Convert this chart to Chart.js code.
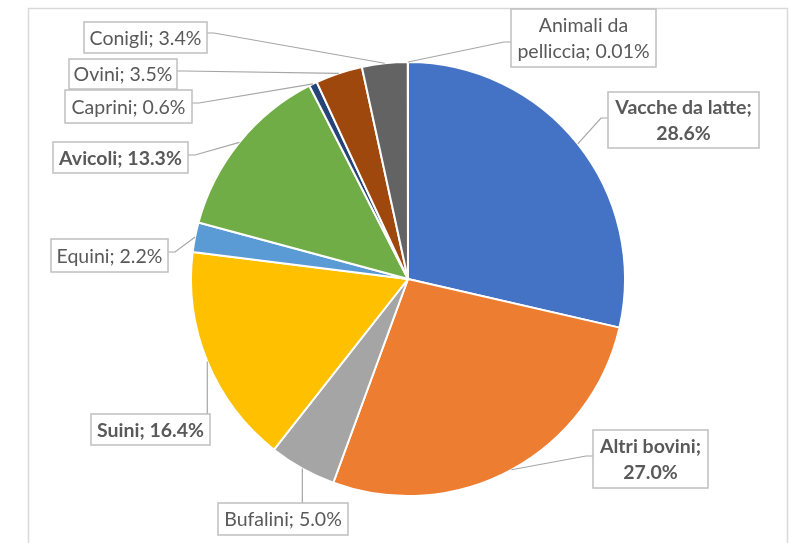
<!DOCTYPE html>
<html><head><meta charset="utf-8">
<script src="https://cdn.jsdelivr.net/npm/chart.js@4.4.1/dist/chart.umd.min.js"></script>
<style>html,body{margin:0;padding:0;background:#fff;overflow:hidden}canvas{display:block}</style>
</head><body>
<canvas id="c" width="790" height="543"></canvas>
<script>
// ---- data ----
const categories = ["Vacche da latte","Altri bovini","Bufalini","Suini","Equini","Avicoli","Caprini","Ovini","Conigli","Animali da pelliccia"];
const shares = [28.6, 27.0, 5.0, 16.4, 2.2, 13.3, 0.6, 3.5, 3.4, 0.01];
const boldLabels = [true, true, false, true, false, true, false, false, false, false];
const sliceColors = ["#4472C4","#ED7D31","#A5A5A5","#FFC000","#5B9BD5","#70AD47","#264478","#9E480E","#636363","#997300"];
// ---- label layout: [left, top, width, height, leader side, leader attach y] ----
const labelBoxes = [
  [608, 92, 151, 56, 'left', 118],
  [593, 430, 115, 58, 'left', 456],
  [218, 503, 130, 32, 'top', 0],
  [91, 414, 119, 31, 'top', 0],
  [51, 239, 117, 33, 'right', 252],
  [53, 142, 135, 31, 'right', 155],
  [65, 90, 127, 33, 'right', 103],
  [69, 59, 108, 30, 'right', 71],
  [84, 22, 123, 31, 'right', 33],
  [511, 9, 145, 58, 'left', 42]
];
const FONT_SIZE = 19.5;
const LINE_H = 26;

function fmt(v){ return (v < 0.1 ? v.toFixed(2) : v.toFixed(1)) + '%'; }

function wrap(ctx, text, maxW){
  const words = text.split(' ');
  const lines = [];
  let cur = '';
  words.forEach(w=>{
    const t = cur ? cur + ' ' + w : w;
    if (cur && ctx.measureText(t).width > maxW){ lines.push(cur); cur = w; }
    else cur = t;
  });
  if (cur) lines.push(cur);
  return lines;
}

const framePlugin = {
  id: 'frame',
  beforeDraw(chart){
    const ctx = chart.ctx;
    ctx.save();
    ctx.fillStyle = '#fff';
    ctx.fillRect(0,0,chart.width,chart.height);
    ctx.strokeStyle = '#D9D9D9';
    ctx.lineWidth = 1.5;
    ctx.strokeRect(28.5, 8.5, 759, 600);
    ctx.restore();
  }
};

const calloutPlugin = {
  id: 'callouts',
  afterDatasetsDraw(chart){
    const ctx = chart.ctx;
    const meta = chart.getDatasetMeta(0);
    meta.data.forEach((arc, i)=>{
      const p = arc.getProps(['x','y','startAngle','endAngle','outerRadius'], true);
      const mid = (p.startAngle + p.endAngle) / 2;
      const px = p.x + Math.cos(mid) * p.outerRadius;
      const py = p.y + Math.sin(mid) * p.outerRadius;
      const [bx, by, bw, bh, side, ay] = labelBoxes[i];
      ctx.save();
      ctx.strokeStyle = '#A6A6A6';
      ctx.lineWidth = 1.2;
      ctx.beginPath();
      if (side === 'top'){ ctx.moveTo(px, by); ctx.lineTo(px, py); }
      else if (side === 'left'){ ctx.moveTo(bx, ay); ctx.lineTo(bx - 7, ay); ctx.lineTo(px, py); }
      else { ctx.moveTo(bx + bw, ay); ctx.lineTo(bx + bw + 7, ay); ctx.lineTo(px, py); }
      ctx.stroke();
      ctx.fillStyle = '#fff';
      ctx.fillRect(bx, by, bw, bh);
      ctx.strokeStyle = '#BFBFBF';
      ctx.lineWidth = 1.5;
      ctx.strokeRect(bx, by, bw, bh);
      ctx.font = (boldLabels[i] ? 'bold ' : '') + FONT_SIZE + 'px Lato';
      ctx.fillStyle = '#595959';
      ctx.textAlign = 'center';
      ctx.textBaseline = 'middle';
      const lines = wrap(ctx, categories[i] + '; ' + fmt(shares[i]), bw - 2);
      const cy = by + bh / 2;
      lines.forEach((ln, k)=>{
        ctx.fillText(ln, bx + bw / 2, cy + (k - (lines.length - 1) / 2) * LINE_H + 1);
      });
      ctx.restore();
    });
  }
};

new Chart(document.getElementById('c'), {
  type: 'pie',
  data: {
    labels: categories,
    datasets: [{
      data: shares,
      backgroundColor: sliceColors,
      borderColor: '#ffffff',
      borderWidth: 2
    }]
  },
  options: {
    responsive: false,
    animation: false,
    layout: { padding: { top: 61, bottom: 46, left: 190, right: 164 } },
    plugins: { legend: { display: false }, tooltip: { enabled: false } }
  },
  plugins: [framePlugin, calloutPlugin]
});
</script>
</body></html>
